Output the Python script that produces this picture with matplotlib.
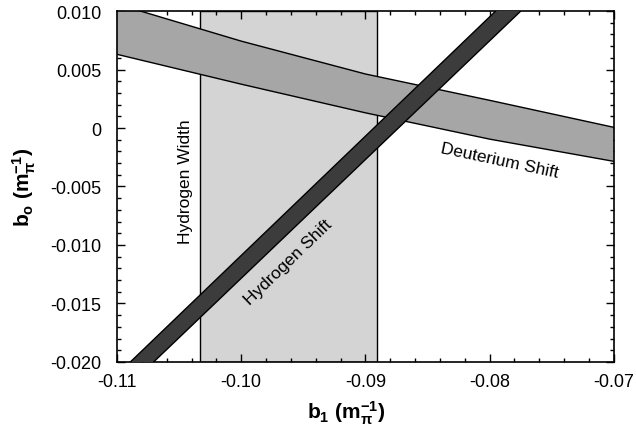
import matplotlib
matplotlib.use("Agg")
import matplotlib.pyplot as plt
import numpy as np

plt.rcParams['font.family'] = ['Liberation Sans', 'DejaVu Sans']
plt.rcParams['mathtext.default'] = 'regular'

# Data
# -------------------------

# Hydrogen Width: vertical band in b1
h_width = [-0.1033, -0.0891]

# Hydrogen Shift: straight diagonal band
h_shift_x = [-0.11, -0.07]
h_shift_hi = [-0.0211, 0.0197]
h_shift_lo = [-0.0230, 0.0176]

# Deuterium Shift: slowly falling band
d_shift_x = [-0.11, -0.10, -0.09, -0.08, -0.07]
d_shift_hi = [0.0106, 0.00743, 0.00462, 0.00237, 0.00006]
d_shift_lo = [0.0063, 0.00375, 0.00130, -0.00095, -0.00285]

x_ticks = [-0.11, -0.10, -0.09, -0.08, -0.07]
x_tick_labels = ["-0.11", "-0.10", "-0.09", "-0.08", "-0.07"]
y_ticks = [-0.020, -0.015, -0.010, -0.005, 0.0, 0.005, 0.010]
y_tick_labels = ["-0.020", "-0.015", "-0.010", "-0.005", "0", "0.005", "0.010"]

# Draw plot
# ---------

fig = plt.figure(figsize=(6.36, 4.31), dpi=100)
ax = fig.add_axes([0.184, 0.158, 0.781, 0.814])

ax.axvspan(h_width[0], h_width[1], facecolor="#d4d4d4", edgecolor="black", lw=1.0, zorder=1)

ax.fill_between(d_shift_x, d_shift_lo, d_shift_hi, facecolor="#a6a6a6", edgecolor="none", zorder=2)
ax.plot(d_shift_x, d_shift_hi, color="black", lw=1.0, zorder=2)
ax.plot(d_shift_x, d_shift_lo, color="black", lw=1.0, zorder=2)

ax.fill_between(h_shift_x, h_shift_lo, h_shift_hi, facecolor="#3c3c3c", edgecolor="none", zorder=3)
ax.plot(h_shift_x, h_shift_hi, color="black", lw=1.0, zorder=3)
ax.plot(h_shift_x, h_shift_lo, color="black", lw=1.0, zorder=3)

ax.text(-0.1045, -0.0045, "Hydrogen Width", rotation=90, ha="center", va="center", fontsize=12.5)
ax.text(-0.0962, -0.0114, "Hydrogen Shift", rotation=44, ha="center", va="center", fontsize=12.5)
ax.text(-0.0792, -0.0027, "Deuterium Shift", rotation=-12, ha="center", va="center", fontsize=12.5)

ax.set_xlim(-0.11, -0.07)
ax.set_ylim(-0.020, 0.010)
ax.set_xticks(x_ticks)
ax.set_xticklabels(x_tick_labels)
ax.set_yticks(y_ticks)
ax.set_yticklabels(y_tick_labels)
ax.set_xticks(np.arange(-0.11, -0.0699, 0.002), minor=True)
ax.set_yticks(np.arange(-0.020, 0.0101, 0.001), minor=True)

ax.tick_params(which="both", direction="in", top=True, right=True, labelsize=13, width=1.0)
ax.tick_params(which="major", length=6)
ax.tick_params(which="minor", length=3)
ax.tick_params(axis="x", pad=8)
ax.tick_params(axis="y", pad=11)
for s in ax.spines.values():
    s.set_linewidth(1.2)

ax.set_xlabel(r"b$_1$ (m$_\pi^{-1}$)", fontsize=15, fontweight="bold")
ax.set_ylabel(r"b$_o$ (m$_\pi^{-1}$)", fontsize=15, fontweight="bold")
ax.xaxis.set_label_coords(0.461, -0.105)
ax.yaxis.set_label_coords(-0.16, 0.5)

fig.savefig("out.png", dpi=100)
